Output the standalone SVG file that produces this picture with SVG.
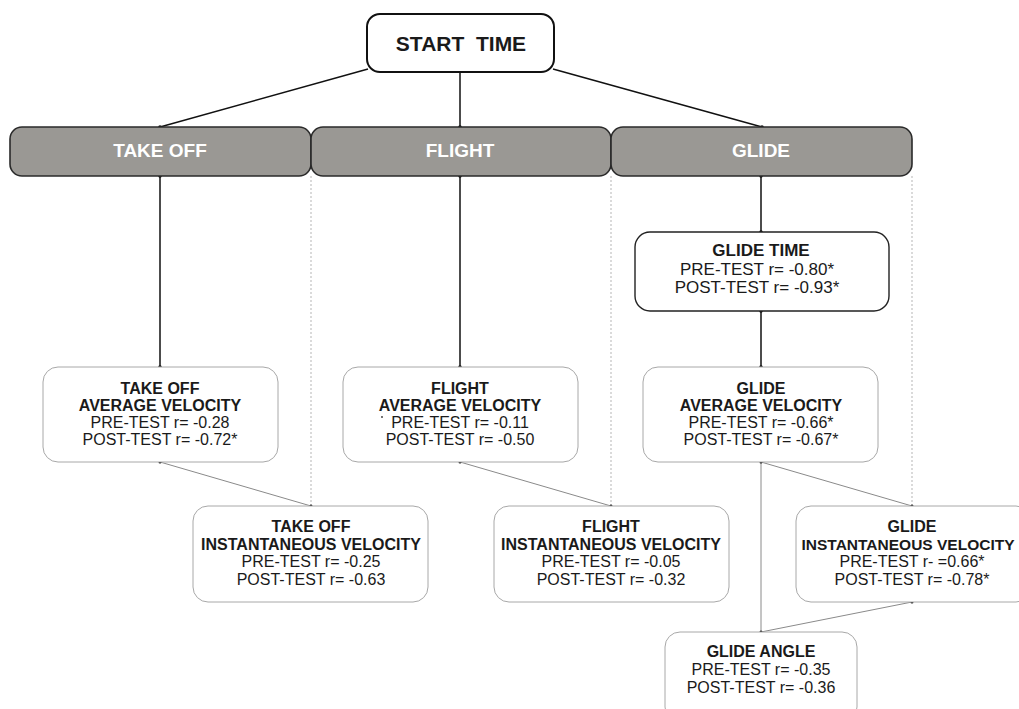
<svg xmlns="http://www.w3.org/2000/svg" width="1019" height="709" viewBox="0 0 1019 709">
<style>
text{font-family:"Liberation Sans",Arial,sans-serif;fill:#1a1a1a;text-anchor:middle}
.b{font-weight:bold}
.t16{font-size:16px}
.t17{font-size:17px}
.bar{fill:#9a9894;stroke:#2a2a2a;stroke-width:1.6}
.bartxt{fill:#fff;font-weight:bold;font-size:19px}
.box{fill:#fff;stroke:#a8a8a8;stroke-width:1}
.box2{fill:#fff;stroke:#222;stroke-width:1.4}
.main{stroke:#111;stroke-width:1.5;fill:none}
.thin{stroke:#8a8a8a;stroke-width:1;fill:none}
.dot{stroke:#b5b5b5;stroke-width:1;stroke-dasharray:2,2;fill:none}
.pt{fill:#111}
</style>
<rect width="1019" height="709" fill="#fff"/>
<g id="connectors">
<line class="main" x1="368" y1="69" x2="160" y2="127"/>
<line class="main" x1="460" y1="72" x2="460" y2="127"/>
<line class="main" x1="553" y1="69" x2="762" y2="127"/>
<line class="main" x1="160" y1="176" x2="160" y2="367"/>
<line class="main" x1="460" y1="176" x2="460" y2="367"/>
<line class="main" x1="761" y1="176" x2="761" y2="232"/>
<line class="main" x1="761" y1="311" x2="761" y2="367"/>
<line class="dot" x1="311" y1="176" x2="311" y2="506"/>
<line class="dot" x1="611" y1="176" x2="611" y2="506"/>
<line class="dot" x1="912" y1="176" x2="912" y2="506"/>
<line class="thin" x1="160" y1="462" x2="311" y2="506"/>
<line class="thin" x1="460" y1="462" x2="611" y2="506"/>
<line class="thin" x1="761" y1="462" x2="912" y2="506"/>
<line class="thin" x1="761" y1="462" x2="761" y2="632"/>
<line class="thin" x1="912" y1="602" x2="761" y2="632"/>
<circle class="pt" cx="160" cy="127" r="1.8"/>
<circle class="pt" cx="460" cy="127" r="1.8"/>
<circle class="pt" cx="762" cy="127" r="1.8"/>
<circle class="pt" cx="160" cy="176" r="1.8"/>
<circle class="pt" cx="460" cy="176" r="1.8"/>
<circle class="pt" cx="761" cy="176" r="1.8"/>
<circle class="pt" cx="160" cy="367" r="1.8"/>
<circle class="pt" cx="460" cy="367" r="1.8"/>
<circle class="pt" cx="761" cy="367" r="1.8"/>
<circle class="pt" cx="761" cy="232" r="1.8"/>
<circle class="pt" cx="761" cy="311" r="1.8"/>
<circle class="pt" cx="160" cy="462" r="1.5"/>
<circle class="pt" cx="460" cy="462" r="1.5"/>
<circle class="pt" cx="761" cy="462" r="1.5"/>
<circle class="pt" cx="311" cy="506" r="1.5"/>
<circle class="pt" cx="611" cy="506" r="1.5"/>
<circle class="pt" cx="912" cy="506" r="1.5"/>
<circle class="pt" cx="912" cy="602" r="1.5"/>
<circle class="pt" cx="761" cy="632" r="1.5"/>
</g>
<g id="start">
<rect x="367" y="14" width="187" height="58" rx="13" fill="#fff" stroke="#111" stroke-width="2"/>
<text x="461" y="51" class="b" font-size="21" style="white-space:pre" xml:space="preserve">START  TIME</text>
</g>
<g id="takeoff">
<rect class="bar" x="10" y="127" width="301" height="49" rx="12"/>
<text class="bartxt" x="160" y="157">TAKE OFF</text>
</g>
<g id="flight">
<rect class="bar" x="311" y="127" width="300" height="49" rx="12"/>
<text class="bartxt" x="460" y="157">FLIGHT</text>
</g>
<g id="glide">
<rect class="bar" x="611" y="127" width="301" height="49" rx="12"/>
<text class="bartxt" x="761" y="157">GLIDE</text>
</g>
<g id="glidetime">
<rect class="box2" x="635" y="232" width="254" height="79" rx="15"/>
<text class="t17 b" x="761" y="256">GLIDE TIME</text>
<text class="t17" x="757" y="275">PRE-TEST r= -0.80*</text>
<text class="t17" x="757" y="293">POST-TEST r= -0.93*</text>
</g>
<g id="takeoff-avg">
<rect class="box" x="43" y="367" width="235" height="95" rx="15"/>
<text class="t16 b" x="160" y="394">TAKE OFF</text>
<text class="t16 b" x="160" y="411">AVERAGE VELOCITY</text>
<text class="t16" x="160" y="428">PRE-TEST r= -0.28</text>
<text class="t16" x="160" y="445">POST-TEST r= -0.72*</text>
</g>
<g id="flight-avg">
<rect class="box" x="343" y="367" width="235" height="95" rx="15"/>
<text class="t16 b" x="460" y="394">FLIGHT</text>
<text class="t16 b" x="460" y="411">AVERAGE VELOCITY</text>
<circle cx="382" cy="417" r="0.9" fill="#333"/>
<text class="t16" x="460" y="428">PRE-TEST r= -0.11</text>
<text class="t16" x="460" y="445">POST-TEST r= -0.50</text>
</g>
<g id="glide-avg">
<rect class="box" x="643" y="367" width="235" height="95" rx="15"/>
<text class="t16 b" x="761" y="394">GLIDE</text>
<text class="t16 b" x="761" y="411">AVERAGE VELOCITY</text>
<text class="t16" x="761" y="428">PRE-TEST r= -0.66*</text>
<text class="t16" x="761" y="445">POST-TEST r= -0.67*</text>
</g>
<g id="takeoff-inst">
<rect class="box" x="193" y="506" width="235" height="96" rx="15"/>
<text class="t16 b" x="311" y="532">TAKE OFF</text>
<text class="t16 b" x="311" y="550">INSTANTANEOUS VELOCITY</text>
<text class="t16" x="311" y="567">PRE-TEST r= -0.25</text>
<text class="t16" x="311" y="585">POST-TEST r= -0.63</text>
</g>
<g id="flight-inst">
<rect class="box" x="494" y="506" width="235" height="96" rx="15"/>
<text class="t16 b" x="611" y="532">FLIGHT</text>
<text class="t16 b" x="611" y="550">INSTANTANEOUS VELOCITY</text>
<text class="t16" x="611" y="567">PRE-TEST r= -0.05</text>
<text class="t16" x="611" y="585">POST-TEST r= -0.32</text>
</g>
<g id="glide-inst">
<rect class="box" x="796" y="506" width="235" height="96" rx="15"/>
<text class="t16 b" x="912" y="532">GLIDE</text>
<text class="b" font-size="15.5" x="908" y="550">INSTANTANEOUS VELOCITY</text>
<text class="t16" x="912" y="567">PRE-TEST r- =0.66*</text>
<text class="t16" x="912" y="585">POST-TEST r= -0.78*</text>
</g>
<g id="glide-angle">
<rect class="box" x="665" y="632" width="192" height="90" rx="15"/>
<text class="t16 b" x="761" y="657">GLIDE ANGLE</text>
<text class="t16" x="761" y="675">PRE-TEST r= -0.35</text>
<text class="t16" x="761" y="693">POST-TEST r= -0.36</text>
</g>
</svg>
